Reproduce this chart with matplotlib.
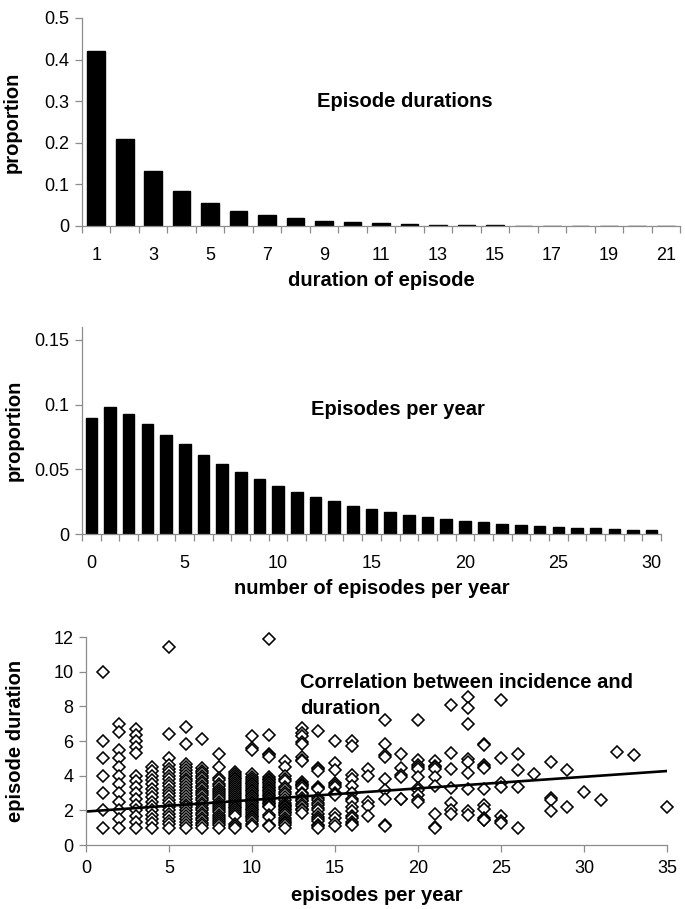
import numpy as np
import matplotlib
matplotlib.use("Agg")
import matplotlib.pyplot as plt
from matplotlib.ticker import FixedLocator

plt.rcParams['font.family'] = ['Liberation Sans', 'DejaVu Sans']

# ==============================================================================
# top panel: distribution of episode durations
duration_days = list(range(1, 22))
duration_prop = [0.421, 0.210, 0.131, 0.085, 0.056, 0.037, 0.026, 0.018, 0.013,
                 0.009, 0.007, 0.005, 0.003, 0.003, 0.003, 0, 0, 0, 0, 0, 0]

# middle panel: distribution of episodes per year
episodes_n = list(range(0, 31))
episodes_prop = [0.0897, 0.0982, 0.0930, 0.0854, 0.0769, 0.0692, 0.0610, 0.0544,
                 0.0480, 0.0423, 0.0369, 0.0323, 0.0287, 0.0254, 0.0220, 0.0195,
                 0.0169, 0.0146, 0.0133, 0.0118, 0.0103, 0.0092, 0.0080, 0.0069,
                 0.0059, 0.0054, 0.0049, 0.0044, 0.0038, 0.0033, 0.0028]

# bottom panel: mean episode duration per person vs episodes per year
dur_1 = [10, 6, 5, 4, 3, 2, 1]
dur_2 = [7, 6.5, 5.5, 5, 4.5, 4, 3.5, 3, 2.5, 2, 1.5, 1]
dur_3 = [6.67, 6.33, 6, 5.67, 5.33, 4, 3.67, 3.33, 3, 2.67, 2.33, 2, 1.67, 1.33, 1]
dur_4 = [4.5, 4.25, 4, 3.75, 3.5, 3.25, 3, 2.75, 2.5, 2.25, 2, 1.75, 1.5, 1.25, 1]
dur_5 = [11.4, 6.4, 5, 4.6, 4.4, 4.2, 4, 3.8, 3.6, 3.4, 3.2, 3, 2.8, 2.6, 2.4,
         2.2, 2, 1.8, 1.6, 1.4, 1.2, 1]
dur_6 = [6.83, 5.83, 4.67, 4.5, 4.33, 4.17, 4, 3.83, 3.67, 3.5, 3.33, 3.17, 3,
         2.83, 2.67, 2.5, 2.33, 2.17, 2, 1.83, 1.67, 1.5, 1.33, 1.17, 1]
dur_7 = [6.14, 4.43, 4.29, 4.14, 4, 3.86, 3.71, 3.57, 3.43, 3.29, 3.14, 3, 2.86,
         2.71, 2.57, 2.43, 2.29, 2.14, 2, 1.86, 1.71, 1.57, 1.43, 1.29, 1.14, 1]
dur_8 = [5.25, 4.5, 3.88, 3.75, 3.5, 3.38, 3.25, 3.13, 3, 2.88, 2.75, 2.63, 2.5,
         2.38, 2.25, 2.13, 2, 1.88, 1.75, 1.63, 1.5, 1.38, 1.25, 1.13, 1]
dur_9 = [4.22, 4.11, 4, 3.89, 3.78, 3.67, 3.56, 3.44, 3.33, 3.22, 3.11, 3, 2.89,
         2.78, 2.67, 2.56, 2.44, 2.33, 2.22, 2.11, 2, 1.89, 1.78, 1.67, 1.22,
         1.11, 1]
dur_10 = [6.3, 5.6, 5.5, 4.1, 3.9, 3.8, 3.7, 3.6, 3.5, 3.4, 3.3, 3.2, 3.1, 3.0,
          2.9, 2.8, 2.7, 2.6, 2.5, 2.4, 2.3, 2.2, 2.1, 2.0, 1.9, 1.8, 1.7, 1.6,
          1.5, 1.4, 1.2, 1.1]
dur_11 = [11.91, 6.36, 5.27, 5.18, 5.09, 3.91, 3.82, 3.73, 3.64, 3.55, 3.45,
          3.36, 3.27, 3.18, 3.09, 3.0, 2.91, 2.82, 2.73, 2.64, 2.55, 2.45, 2.36,
          2.27, 2.18, 1.73, 1.64, 1.18, 1.09]
dur_12 = [4.83, 4.5, 4.0, 3.83, 3.67, 3.33, 3.25, 3.08, 2.92, 2.75, 2.58, 2.42,
          2.33, 2.25, 2.17, 2.08, 2.0, 1.92, 1.83, 1.75, 1.58, 1.42, 1.33, 1.25,
          1.17, 1.0]
dur_13 = [6.77, 6.46, 6.31, 5.92, 5.85, 5.08, 4.92, 4.85, 3.62, 3.54, 3.46, 3.38,
          3.31, 3.0, 2.92, 2.69, 2.62, 2.54, 2.38, 2.23, 2.08, 2.0, 1.85]
dur_14 = [6.57, 4.43, 4.36, 4.29, 3.36, 3.29, 3.21, 2.71, 2.57, 2.43, 2.29, 2.14,
          2.0, 1.79, 1.64, 1.5, 1.36, 1.14, 1.07, 1.0]
dur_15 = [6.0, 4.73, 4.33, 3.6, 3.47, 3.33, 3.0, 2.93, 2.87, 1.8, 1.53, 1.27, 1.07]
dur_16 = [6.0, 5.69, 4.06, 3.81, 3.38, 3.0, 2.63, 2.56, 2.19, 1.94, 1.69, 1.56,
          1.31, 1.19, 1.13]
dur_17 = [4.41, 4.0, 2.47, 2.24, 1.65]
dur_18 = [7.24, 5.83, 5.17, 5.06, 3.83, 3.17, 2.67, 1.17, 1.11]
dur_19 = [5.26, 4.47, 4.05, 3.95, 2.68, 2.63]
dur_20 = [7.2, 4.9, 4.6, 4.5, 4.4, 3.95, 3.3, 3.15, 2.9, 2.6, 2.5]
dur_21 = [4.86, 4.57, 4.48, 4.38, 3.95, 3.38, 1.81, 1.05, 1.0]
dur_22 = [8.09, 5.32, 4.36, 3.27, 2.45, 2.0, 1.77]
dur_23 = [8.52, 7.91, 6.96, 4.96, 4.78, 4.17, 3.26, 1.96, 1.74]
dur_24 = [5.83, 5.75, 4.63, 4.5, 4.42, 3.25, 2.29, 2.08, 1.54, 1.46, 1.42]
dur_25 = [8.36, 5.04, 3.6, 3.32, 1.68, 1.36, 1.28]
dur_26 = [5.23, 4.31, 3.35, 1.0]
dur_27 = [4.07]
dur_28 = [4.79, 2.71, 2.57, 1.96]
dur_29 = [4.31, 2.21]
dur_30 = [3.07]
dur_31 = [2.58]
dur_32 = [5.34]
dur_33 = [5.18]
dur_35 = [2.2]

scatter_columns = {1: dur_1, 2: dur_2, 3: dur_3, 4: dur_4, 5: dur_5, 6: dur_6,
                   7: dur_7, 8: dur_8, 9: dur_9, 10: dur_10, 11: dur_11,
                   12: dur_12, 13: dur_13, 14: dur_14, 15: dur_15, 16: dur_16,
                   17: dur_17, 18: dur_18, 19: dur_19, 20: dur_20, 21: dur_21,
                   22: dur_22, 23: dur_23, 24: dur_24, 25: dur_25, 26: dur_26,
                   27: dur_27, 28: dur_28, 29: dur_29, 30: dur_30, 31: dur_31,
                   32: dur_32, 33: dur_33, 35: dur_35}

# linear trend line
trend_intercept = 1.93
trend_slope = 0.0668

# ==============================================================================
AXIS_GRAY = '#8c8c8c'
TICK_FS = 13
LABEL_FS = 14.5


def style_axes(ax):
    for side in ['top', 'right']:
        ax.spines[side].set_visible(False)
    for side in ['left', 'bottom']:
        ax.spines[side].set_color(AXIS_GRAY)
        ax.spines[side].set_linewidth(0.9)
    ax.tick_params(which='both', color=AXIS_GRAY, width=0.9, labelsize=TICK_FS)
    ax.tick_params(axis='y', which='major', length=5, pad=4)


def category_bars(ax, cats, vals, label_every, first_label):
    ax.bar(cats, vals, width=0.62, color='black', edgecolor='black')
    ax.set_xlim(cats[0] - 0.5, cats[-1] + 0.5)
    ax.xaxis.set_major_locator(FixedLocator(cats[first_label::label_every]))
    ax.xaxis.set_minor_locator(FixedLocator(np.arange(cats[0] - 0.5, cats[-1] + 1, 1.0)))
    ax.tick_params(axis='x', which='major', length=0, pad=15)
    ax.tick_params(axis='x', which='minor', length=5, direction='out')


fig = plt.figure(figsize=(6.85, 9.09), dpi=100)

# ---- top
ax1 = fig.add_axes([0.1197, 0.7514, 0.873, 0.2288])
style_axes(ax1)
category_bars(ax1, duration_days, duration_prop, 2, 0)
ax1.set_ylim(0, 0.5)
ax1.set_yticks([0, 0.1, 0.2, 0.3, 0.4, 0.5])
ax1.set_yticklabels(['0', '0.1', '0.2', '0.3', '0.4', '0.5'])
ax1.set_xlabel('duration of episode', fontsize=LABEL_FS, fontweight='bold', labelpad=5)
ax1.set_ylabel('proportion', fontsize=LABEL_FS, fontweight='bold')
ax1.yaxis.set_label_coords(-0.1, 0.5)
ax1.text(0.54, 0.6, 'Episode durations', transform=ax1.transAxes,
         ha='center', va='center', fontsize=LABEL_FS, fontweight='bold')

# ---- middle
ax2 = fig.add_axes([0.1197, 0.4125, 0.8453, 0.2278])
style_axes(ax2)
category_bars(ax2, episodes_n, episodes_prop, 5, 0)
ax2.set_ylim(0, 0.16)
ax2.set_yticks([0, 0.05, 0.1, 0.15])
ax2.set_yticklabels(['0', '0.05', '0.1', '0.15'])
ax2.set_xlabel('number of episodes per year', fontsize=LABEL_FS, fontweight='bold', labelpad=5)
ax2.set_ylabel('proportion', fontsize=LABEL_FS, fontweight='bold')
ax2.yaxis.set_label_coords(-0.1, 0.5)
ax2.text(0.545, 0.6, 'Episodes per year', transform=ax2.transAxes,
         ha='center', va='center', fontsize=LABEL_FS, fontweight='bold')

# ---- bottom
ax3 = fig.add_axes([0.1255, 0.0704, 0.8482, 0.2288])
style_axes(ax3)
sx = []
sy = []
for xv, ys in scatter_columns.items():
    sx.extend([xv] * len(ys))
    sy.extend(ys)
ax3.plot(sx, sy, linestyle='none', marker='D', markersize=6.5,
         markerfacecolor='white', markeredgecolor='black', markeredgewidth=1.15,
         clip_on=False)
xl = np.array([0, 35])
ax3.plot(xl, trend_intercept + trend_slope * xl, color='black', lw=1.9)
ax3.set_xlim(0, 35)
ax3.set_ylim(0, 12)
ax3.set_xticks(range(0, 36, 5))
ax3.set_yticks(range(0, 13, 2))
ax3.tick_params(axis='x', which='major', length=5, pad=6)
ax3.set_xlabel('episodes per year', fontsize=LABEL_FS, fontweight='bold', labelpad=6)
ax3.set_ylabel('episode duration', fontsize=LABEL_FS, fontweight='bold')
ax3.yaxis.set_label_coords(-0.105, 0.5)
ax3.text(0.368, 0.825, 'Correlation between incidence and\nduration', transform=ax3.transAxes,
         ha='left', va='top', fontsize=LABEL_FS, fontweight='bold', linespacing=1.45)

plt.savefig('out.png', dpi=100)
